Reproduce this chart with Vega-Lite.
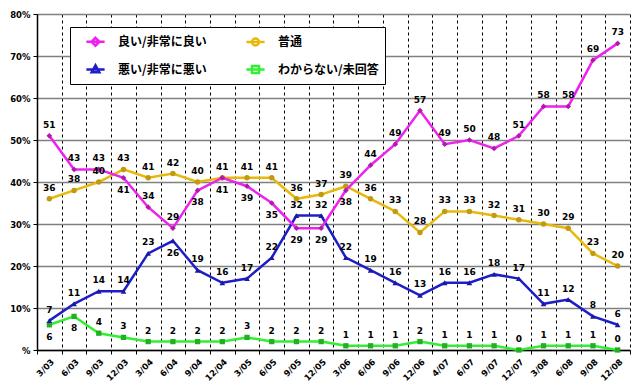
{
  "$schema": "https://vega.github.io/schema/vega-lite/v6.json",
  "width": 593,
  "height": 336,
  "autosize": {"type": "none"},
  "padding": {"left": 37, "top": 14, "right": 1, "bottom": 42},
  "background": "white",
  "config": {"view": {"stroke": null}, "font": "DejaVu Sans"},
  "data": {
    "values": [
      {"d": "3/03", "good": 51, "neutral": 36, "bad": 7, "dk": 6},
      {"d": "6/03", "good": 43, "neutral": 38, "bad": 11, "dk": 8},
      {"d": "9/03", "good": 43, "neutral": 40, "bad": 14, "dk": 4},
      {"d": "12/03", "good": 41, "neutral": 43, "bad": 14, "dk": 3},
      {"d": "3/04", "good": 34, "neutral": 41, "bad": 23, "dk": 2},
      {"d": "6/04", "good": 29, "neutral": 42, "bad": 26, "dk": 2},
      {"d": "9/04", "good": 38, "neutral": 40, "bad": 19, "dk": 2},
      {"d": "12/04", "good": 41, "neutral": 41, "bad": 16, "dk": 2},
      {"d": "3/05", "good": 39, "neutral": 41, "bad": 17, "dk": 3},
      {"d": "6/05", "good": 35, "neutral": 41, "bad": 22, "dk": 2},
      {"d": "9/05", "good": 29, "neutral": 36, "bad": 32, "dk": 2},
      {"d": "12/05", "good": 29, "neutral": 37, "bad": 32, "dk": 2},
      {"d": "3/06", "good": 38, "neutral": 39, "bad": 22, "dk": 1},
      {"d": "6/06", "good": 44, "neutral": 36, "bad": 19, "dk": 1},
      {"d": "9/06", "good": 49, "neutral": 33, "bad": 16, "dk": 1},
      {"d": "12/06", "good": 57, "neutral": 28, "bad": 13, "dk": 2},
      {"d": "4/07", "good": 49, "neutral": 33, "bad": 16, "dk": 1},
      {"d": "6/07", "good": 50, "neutral": 33, "bad": 16, "dk": 1},
      {"d": "9/07", "good": 48, "neutral": 32, "bad": 18, "dk": 1},
      {"d": "12/07", "good": 51, "neutral": 31, "bad": 17, "dk": 0},
      {"d": "3/08", "good": 58, "neutral": 30, "bad": 11, "dk": 1},
      {"d": "6/08", "good": 58, "neutral": 29, "bad": 12, "dk": 1},
      {"d": "9/08", "good": 69, "neutral": 23, "bad": 8, "dk": 1},
      {"d": "12/08", "good": 73, "neutral": 20, "bad": 6, "dk": 0}
    ]
  },
  "encoding": {
    "x": {
      "field": "d", "type": "ordinal", "sort": null, "title": null,
      "scale": {"type": "band", "paddingInner": 0, "paddingOuter": 0},
      "axis": {
        "labelAngle": -45, "labelFont": "DejaVu Sans", "labelFontWeight": "bold", "labelFontSize": 8.5,
        "labelColor": "black", "tickBand": "extent", "grid": true, "gridColor": "black", "gridDash": [3, 3],
        "gridWidth": 1, "domainColor": "black", "domainWidth": 1.5, "tickColor": "black", "tickSize": 4, "labelPadding": 3
      }
    },
    "y": {
      "field": "v", "type": "quantitative", "title": null,
      "scale": {"domain": [0, 80]},
      "axis": {
        "values": [0, 10, 20, 30, 40, 50, 60, 70, 80],
        "labelExpr": "datum.value == 0 ? '%' : datum.value + '%'",
        "grid": true, "gridColor": "#808080", "gridWidth": 1.5,
        "domainColor": "black", "domainWidth": 1.5, "tickColor": "black", "tickSize": 4, "labelPadding": 3,
        "labelFont": "DejaVu Sans", "labelFontWeight": "bold", "labelFontSize": 8.5, "labelColor": "black"
      }
    }
  },
  "layer": [
    {
      "transform": [{"fold": ["dk"], "as": ["s", "v"]}],
      "mark": {"type": "line", "color": "#33ee33", "strokeWidth": 2.5,
        "point": {"shape": "square", "size": 28, "filled": true, "color": "#22b022", "opacity": 1}}
    },
    {
      "transform": [{"fold": ["neutral"], "as": ["s", "v"]}],
      "mark": {"type": "line", "color": "#e8b80a", "strokeWidth": 2.5,
        "point": {"shape": "circle", "size": 30, "filled": true, "color": "#c09a10", "opacity": 1}}
    },
    {
      "transform": [{"fold": ["bad"], "as": ["s", "v"]}],
      "mark": {"type": "line", "color": "#1e1ec8", "strokeWidth": 2.5,
        "point": {"shape": "triangle-up", "size": 32, "filled": true, "color": "#1a1aa0", "opacity": 1}}
    },
    {
      "transform": [{"fold": ["good"], "as": ["s", "v"]}],
      "mark": {"type": "line", "color": "#ee22ee", "strokeWidth": 2.5,
        "point": {"shape": "diamond", "size": 32, "filled": true, "color": "#b01aa8", "opacity": 1}}
    },
    {
      "transform": [
        {"filter": "!((datum.good <= datum.neutral && datum.neutral - datum.good <= 6) || datum.bad >= datum.good)"},
        {"fold": ["good"], "as": ["s", "v"]}
      ],
      "mark": {"type": "text", "font": "DejaVu Sans", "fontWeight": "bold", "fontSize": 9, "color": "black", "dy": -11},
      "encoding": {"text": {"field": "v", "type": "quantitative"}}
    },
    {
      "transform": [
        {"filter": "(datum.good <= datum.neutral && datum.neutral - datum.good <= 6) || datum.bad >= datum.good"},
        {"fold": ["good"], "as": ["s", "v"]}
      ],
      "mark": {"type": "text", "font": "DejaVu Sans", "fontWeight": "bold", "fontSize": 9, "color": "black", "dy": 12},
      "encoding": {"text": {"field": "v", "type": "quantitative"}}
    },
    {
      "transform": [{"fold": ["neutral"], "as": ["s", "v"]}],
      "mark": {"type": "text", "font": "DejaVu Sans", "fontWeight": "bold", "fontSize": 9, "color": "black", "dy": -11},
      "encoding": {"text": {"field": "v", "type": "quantitative"}}
    },
    {
      "transform": [
        {"filter": "!(datum.good - datum.bad >= 0 && datum.good - datum.bad <= 4)"},
        {"fold": ["bad"], "as": ["s", "v"]}
      ],
      "mark": {"type": "text", "font": "DejaVu Sans", "fontWeight": "bold", "fontSize": 9, "color": "black", "dy": -11},
      "encoding": {"text": {"field": "v", "type": "quantitative"}}
    },
    {
      "transform": [
        {"filter": "datum.good - datum.bad >= 0 && datum.good - datum.bad <= 4"},
        {"fold": ["bad"], "as": ["s", "v"]}
      ],
      "mark": {"type": "text", "font": "DejaVu Sans", "fontWeight": "bold", "fontSize": 9, "color": "black", "dy": 12},
      "encoding": {"text": {"field": "v", "type": "quantitative"}}
    },
    {
      "transform": [
        {"filter": "datum.bad - datum.dk > 4"},
        {"fold": ["dk"], "as": ["s", "v"]}
      ],
      "mark": {"type": "text", "font": "DejaVu Sans", "fontWeight": "bold", "fontSize": 9, "color": "black", "dy": -11},
      "encoding": {"text": {"field": "v", "type": "quantitative"}}
    },
    {
      "transform": [
        {"filter": "datum.bad - datum.dk <= 4"},
        {"fold": ["dk"], "as": ["s", "v"]}
      ],
      "mark": {"type": "text", "font": "DejaVu Sans", "fontWeight": "bold", "fontSize": 9, "color": "black", "dy": 12},
      "encoding": {"text": {"field": "v", "type": "quantitative"}}
    },
    {
      "transform": [{"filter": "false"}, {"fold": ["good"], "as": ["s", "v"]}],
      "mark": {"type": "point", "filled": false, "opacity": 1, "strokeWidth": 2.5},
      "encoding": {
        "color": {
          "field": "s", "type": "nominal",
          "scale": {"domain": ["good", "neutral", "bad", "dk"], "range": ["#ee22ee", "#e8b80a", "#1e1ec8", "#33ee33"]},
          "legend": {
            "title": null, "orient": "none", "legendX": 33, "legendY": 13, "direction": "horizontal", "columns": 2,
            "fillColor": "white", "strokeColor": "black", "padding": 6, "symbolSize": 196, "symbolOffset": 11,
            "labelOffset": 14, "columnPadding": 29, "rowPadding": 9, "symbolStrokeWidth": 2.5,
            "labelFont": "Noto Sans CJK JP", "labelFontWeight": "bold", "labelFontSize": 12, "labelColor": "black", "labelLimit": 200,
            "labelExpr": "{'good': '良い/非常に良い', 'neutral': '普通', 'bad': '悪い/非常に悪い', 'dk': 'わからない/未回答'}[datum.label]",
            "encode": {"symbols": {"update": {"fill": {"scale": "color", "field": "value"}}}}
          }
        },
        "shape": {
          "field": "s", "type": "nominal",
          "scale": {
            "domain": ["good", "neutral", "bad", "dk"],
            "range": [
              "M-1.3,0L1.3,0M0,-0.57L0.57,0L0,0.57L-0.57,0Z",
              "M-1.3,0L1.3,0M-0.5,0A0.5,0.5,0,1,0,0.5,0A0.5,0.5,0,1,0,-0.5,0Z",
              "M-1.3,0L1.3,0M0,-0.6L0.55,0.4L-0.55,0.4Z",
              "M-1.3,0L1.3,0M-0.5,-0.5H0.5V0.5H-0.5Z"
            ]
          },
          "legend": {
            "title": null, "orient": "none", "legendX": 33, "legendY": 13, "direction": "horizontal", "columns": 2,
            "fillColor": "white", "strokeColor": "black", "padding": 6, "symbolSize": 196, "symbolOffset": 11,
            "labelOffset": 14, "columnPadding": 29, "rowPadding": 9, "symbolStrokeWidth": 2.5,
            "labelFont": "Noto Sans CJK JP", "labelFontWeight": "bold", "labelFontSize": 12, "labelColor": "black", "labelLimit": 200,
            "labelExpr": "{'good': '良い/非常に良い', 'neutral': '普通', 'bad': '悪い/非常に悪い', 'dk': 'わからない/未回答'}[datum.label]"
          }
        }
      }
    }
  ]
}
